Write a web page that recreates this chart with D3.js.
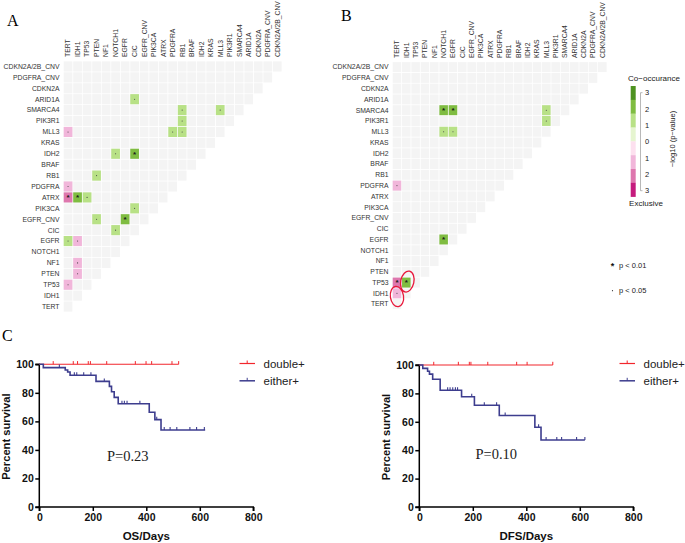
<!DOCTYPE html>
<html><head><meta charset="utf-8">
<script src="https://cdn.jsdelivr.net/npm/d3@7"></script>
<style>body{margin:0;background:#fff}svg{display:block}</style>
</head><body>
<svg id="c" width="685" height="543"></svg>
<script>
// ---------------- DATA ----------------
const genes = ["TERT","IDH1","TP53","PTEN","NF1","NOTCH1","EGFR","CIC","EGFR_CNV","PIK3CA","ATRX","PDGFRA","RB1","BRAF","IDH2","KRAS","MLL3","PIK3R1","SMARCA4","ARID1A","CDKN2A","PDGFRA_CNV","CDKN2A/2B_CNV"];
// significant pairs: [row gene, column gene, signed -log10(p)] (+ co-occurrence, - exclusive)
const sigA = [
  ["ARID1A","CIC",1.6],
  ["SMARCA4","RB1",1.6],["SMARCA4","MLL3",1.6],
  ["PIK3R1","RB1",1.6],
  ["MLL3","TERT",-1.6],["MLL3","PDGFRA",1.6],["MLL3","RB1",1.6],
  ["IDH2","NOTCH1",1.6],["IDH2","CIC",2.6],
  ["RB1","PTEN",1.6],
  ["PDGFRA","TERT",-1.6],
  ["ATRX","TERT",-2.6],["ATRX","IDH1",2.6],["ATRX","TP53",1.4],
  ["PIK3CA","CIC",1.6],
  ["EGFR_CNV","PTEN",1.6],["EGFR_CNV","EGFR",2.7],
  ["CIC","NOTCH1",1.6],
  ["EGFR","TERT",1.6],["EGFR","IDH1",-1.6],
  ["NF1","IDH1",-1.6],
  ["PTEN","IDH1",-1.6],
  ["TP53","TERT",-1.6]
];
const sigB = [
  ["SMARCA4","NOTCH1",2.6],["SMARCA4","EGFR",2.6],["SMARCA4","MLL3",1.6],
  ["PIK3R1","MLL3",1.6],
  ["MLL3","NOTCH1",1.6],["MLL3","EGFR",1.6],
  ["PDGFRA","TERT",-1.6],
  ["EGFR","NOTCH1",2.6],
  ["TP53","TERT",-2.6],["TP53","IDH1",2.6],
  ["IDH1","TERT",-1.6]
];
const circledB = [["TP53","IDH1"],["IDH1","TERT"]];
const legendThresholds = [-3,-2,-1,0,1,2,3];
const legendColors = ["#c51b7d","#de77ae","#f1b6da","#fde0ef","#e6f5d0","#b8e186","#7fbc41","#4d9221"];
const legendTickValues = [3,2,1,0,-1,-2,-3];

// survival data
const xTicks = [0,200,400,600,800];
const yTicks = [0,20,40,60,80,100];
const osDoubleEnd = 521;
const osDoubleCensor = [52,127,143,183,191,252,359,399,420,496,521];
const osEitherSteps = [[0,100],[15,97.7],[97,96.0],[106,94.6],[115,92.3],[212,88.0],[262,84.5],[270,80.8],[280,76.8],[295,72.4],[411,66.4],[432,61.2],[455,54.0]];
const osEitherEnd = 620;
const osEitherCensor = [75,131,140,166,193,243,309,318,328,376,439,467,489,514,563,588,617];
const dfsDoubleEnd = 499;
const dfsDoubleCensor = [54,146,187,193,256,364,403,499];
const dfsEitherSteps = [[0,100],[13,97.6],[31,95.6],[38,93.6],[50,90.0],[78,82.2],[158,77.6],[206,71.7],[299,64.4],[432,56.2],[455,47.2]];
const dfsEitherEnd = 619;
const dfsEitherCensor = [106,115,125,135,143,196,243,289,321,446,474,514,532,588,619];

// ---------------- DRAW ----------------
const svg = d3.select("#c");
const SANS = "'Liberation Sans', Arial, sans-serif";
const SERIF = "'Liberation Serif', 'Times New Roman', serif";
const color = d3.scaleThreshold().domain(legendThresholds).range(legendColors);

function matrix(sig, o){
  const g = svg.append("g");
  const x = d3.scaleBand().domain(genes).range([o.x0,o.x1]);
  const y = d3.scaleBand().domain(genes.slice().reverse()).range([o.y0,o.y1]);
  const cells = [];
  genes.forEach((rg,r)=>{ for(let c=0;c<=r;c++) cells.push([rg,genes[c]]); });
  g.selectAll("rect.bg").data(cells).join("rect")
    .attr("x",d=>x(d[1])+0.4).attr("y",d=>y(d[0])+0.4)
    .attr("width",x.bandwidth()-0.8).attr("height",y.bandwidth()-0.8)
    .attr("fill","#f4f4f4");
  g.selectAll("rect.s").data(sig).join("rect")
    .attr("x",d=>x(d[1])+0.4).attr("y",d=>y(d[0])+0.4)
    .attr("width",x.bandwidth()-0.8).attr("height",y.bandwidth()-0.8)
    .attr("fill",d=>color(d[2]));
  sig.forEach(d=>{
    const cx = x(d[1])+x.bandwidth()/2, cy = y(d[0])+y.bandwidth()/2;
    if(Math.abs(d[2])>=2){
      g.append("text").attr("x",cx).attr("y",cy+2.9).attr("text-anchor","middle")
        .attr("font-family",SANS).attr("font-size",8).attr("font-weight","bold").attr("fill","#1a1a1a").text("*");
    } else if(Math.abs(d[2])>=1.3){
      g.append("circle").attr("cx",cx).attr("cy",cy).attr("r",0.55).attr("fill","#444");
    }
  });
  g.selectAll("text.r").data(genes).join("text")
    .attr("x",o.labelX).attr("y",d=>y(d)+y.bandwidth()/2).attr("dy","0.35em")
    .attr("text-anchor","end").attr("font-family",SANS).attr("font-size",6.8).attr("fill","#333")
    .text(d=>d);
  g.selectAll("text.c").data(genes).join("text")
    .attr("transform",d=>`translate(${x(d)+x.bandwidth()/2},${o.colY}) rotate(-90)`)
    .attr("dy","0.35em").attr("text-anchor","start").attr("font-family",SANS).attr("font-size",6.8).attr("fill","#333")
    .text(d=>d);
  return {g,x,y};
}

const A = matrix(sigA,{x0:63.3,x1:282,y0:61,y1:312,labelX:59.5,colY:57});
const B = matrix(sigB,{x0:392.3,x1:607,y0:61.7,y1:309.5,labelX:388.5,colY:58});

// red circles in B
const ell = [{dx:1,dy:-1,rx:6.6,ry:10.6,rot:12},{dx:0,dy:3.2,rx:6.6,ry:10.2,rot:-8}];
circledB.forEach((d,i)=>{
  const cx = B.x(d[1])+B.x.bandwidth()/2+ell[i].dx, cy = B.y(d[0])+B.y.bandwidth()/2+ell[i].dy;
  svg.append("ellipse").attr("cx",0).attr("cy",0).attr("rx",ell[i].rx).attr("ry",ell[i].ry)
    .attr("transform",`translate(${cx},${cy}) rotate(${ell[i].rot})`)
    .attr("fill","none").attr("stroke","#e8173a").attr("stroke-width",1.3);
});

// panel labels
svg.append("text").attr("x",7).attr("y",26).attr("font-family",SERIF).attr("font-size",16).text("A");
svg.append("text").attr("x",341).attr("y",21).attr("font-family",SERIF).attr("font-size",16).text("B");
svg.append("text").attr("x",2).attr("y",341).attr("font-family",SERIF).attr("font-size",16).text("C");

// colour legend
const lg = svg.append("g");
lg.append("text").attr("x",654).attr("y",81).attr("text-anchor","middle").attr("font-family",SANS).attr("font-size",8).attr("fill","#222").text("Co\u2212occurance");
const segY = d3.scaleBand().domain(d3.range(8)).range([86,196.7]);
lg.selectAll("rect").data(legendColors.slice().reverse()).join("rect")
  .attr("x",630.7).attr("y",(d,i)=>segY(i)).attr("width",5).attr("height",segY.bandwidth()+0.2).attr("fill",d=>d);
const tY = d3.scaleLinear().domain([3,-3]).range([92.7,190.7]);
lg.append("path").attr("d",`M642.5,${tY(3)}H640.5V${tY(-3)}H642.5`).attr("fill","none").attr("stroke","#999").attr("stroke-width",0.7);
lg.selectAll("text.t").data(legendTickValues).join("text")
  .attr("x",647).attr("y",d=>tY(d)).attr("dy","0.35em").attr("text-anchor","middle")
  .attr("font-family",SANS).attr("font-size",7.5).attr("fill","#222").text(d=>Math.abs(d));
lg.append("text").attr("transform","translate(675,139) rotate(-90)").attr("text-anchor","middle")
  .attr("font-family",SANS).attr("font-size",7.5).attr("fill","#222").text("\u2212log10 (p\u2212value)");
lg.append("text").attr("x",646).attr("y",206).attr("text-anchor","middle").attr("font-family",SANS).attr("font-size",8).attr("fill","#222").text("Exclusive");

// p-value legend
svg.append("text").attr("x",612.5).attr("y",268.5).attr("text-anchor","middle").attr("font-family",SANS).attr("font-size",9).attr("font-weight","bold").attr("fill","#111").text("*");
svg.append("text").attr("x",619).attr("y",268).attr("font-family",SANS).attr("font-size",7.5).attr("fill","#222").text("p < 0.01");
svg.append("circle").attr("cx",612.5).attr("cy",290.7).attr("r",0.6).attr("fill","#333");
svg.append("text").attr("x",619).attr("y",293.3).attr("font-family",SANS).attr("font-size",7.5).attr("fill","#222").text("p < 0.05");

// ---------------- KM plots ----------------
const RED = "#f2262c", BLUE = "#3d3d8e";
function km(o){
  const g = svg.append("g");
  const x = d3.scaleLinear().domain([0,800]).range([o.x0,o.x0+214]);
  const y = d3.scaleLinear().domain([0,100]).range([o.yb,o.yt]);
  const ya = g.append("g").attr("transform",`translate(${o.x0},0)`).call(d3.axisLeft(y).tickValues(yTicks).tickSize(4).tickPadding(1.5));
  const xa = g.append("g").attr("transform",`translate(0,${o.yb})`).call(d3.axisBottom(x).tickValues(xTicks).tickSize(4).tickPadding(3));
  [ya,xa].forEach(a=>{
    a.select(".domain").attr("stroke","#000").attr("stroke-width",1.5);
    a.selectAll(".tick line").attr("stroke","#000").attr("stroke-width",1.5);
    a.selectAll(".tick text").attr("font-family",SANS).attr("font-size",10.5).attr("font-weight","bold").attr("fill","#111");
  });
  ya.select(".domain").attr("d",`M-4,${o.yt}H0V${o.yb}H-4`);
  xa.select(".domain").attr("d",`M${o.x0},4V0H${o.x0+214}V4`);
  const line = d3.line().x(d=>x(d[0])).y(d=>y(d[1])).curve(d3.curveStepAfter);
  g.append("path").attr("d",line([[0,100],[o.dEnd,100]])).attr("fill","none").attr("stroke",RED).attr("stroke-width",1.1);
  g.selectAll("line.dc").data(o.dCens).join("line")
    .attr("x1",d=>x(d)).attr("x2",d=>x(d)).attr("y1",y(100)).attr("y2",y(100)-3.2)
    .attr("stroke",RED).attr("stroke-width",1);
  const pts = o.eSteps.concat([[o.eEnd,o.eSteps[o.eSteps.length-1][1]]]);
  g.append("path").attr("d",line(pts)).attr("fill","none").attr("stroke",BLUE).attr("stroke-width",1.6);
  const sAt = t=>{let s=100; o.eSteps.forEach(p=>{if(p[0]<=t) s=p[1];}); return s;};
  g.selectAll("line.ec").data(o.eCens).join("line")
    .attr("x1",d=>x(d)).attr("x2",d=>x(d)).attr("y1",d=>y(sAt(d))).attr("y2",d=>y(sAt(d))-3)
    .attr("stroke",BLUE).attr("stroke-width",1.1);
  g.append("text").attr("transform",`translate(${o.ytX},${(o.yt+o.yb)/2+1}) rotate(-90)`).attr("text-anchor","middle")
    .attr("font-family",SANS).attr("font-size",11.2).attr("font-weight","bold").attr("fill","#111").text("Percent survival");
  g.append("text").attr("x",o.x0+107).attr("y",540).attr("text-anchor","middle")
    .attr("font-family",SANS).attr("font-size",11.5).attr("font-weight","bold").attr("fill","#111").text(o.xTitle);
  g.append("text").attr("x",o.pX).attr("y",o.pY).attr("font-family",SERIF).attr("font-size",14.5).attr("fill","#222").text(o.pText);
  [["double+",RED,363.5],["either+",BLUE,380.8]].forEach(l=>{
    g.append("line").attr("x1",o.lx).attr("x2",o.lx+15.5).attr("y1",l[2]).attr("y2",l[2]).attr("stroke",l[1]).attr("stroke-width",l[1]===BLUE?1.5:1.2);
    g.append("line").attr("x1",o.lx+7.7).attr("x2",o.lx+7.7).attr("y1",l[2]).attr("y2",l[2]-3).attr("stroke",l[1]).attr("stroke-width",1);
    g.append("text").attr("x",o.lx+24).attr("y",l[2]+4).attr("font-family",SANS).attr("font-size",11.5).attr("fill","#222").text(l[0]);
  });
}
km({x0:39.3,yt:364.3,yb:507,ytX:10,xTitle:"OS/Days",pX:107,pY:461,pText:"P=0.23",lx:239.5,
    dEnd:osDoubleEnd,dCens:osDoubleCensor,eSteps:osEitherSteps,eEnd:osEitherEnd,eCens:osEitherCensor});
km({x0:419.3,yt:365,yb:507,ytX:390,xTitle:"DFS/Days",pX:475.5,pY:458.5,pText:"P=0.10",lx:619.5,
    dEnd:dfsDoubleEnd,dCens:dfsDoubleCensor,eSteps:dfsEitherSteps,eEnd:dfsEitherEnd,eCens:dfsEitherCensor});
</script>
</body></html>
